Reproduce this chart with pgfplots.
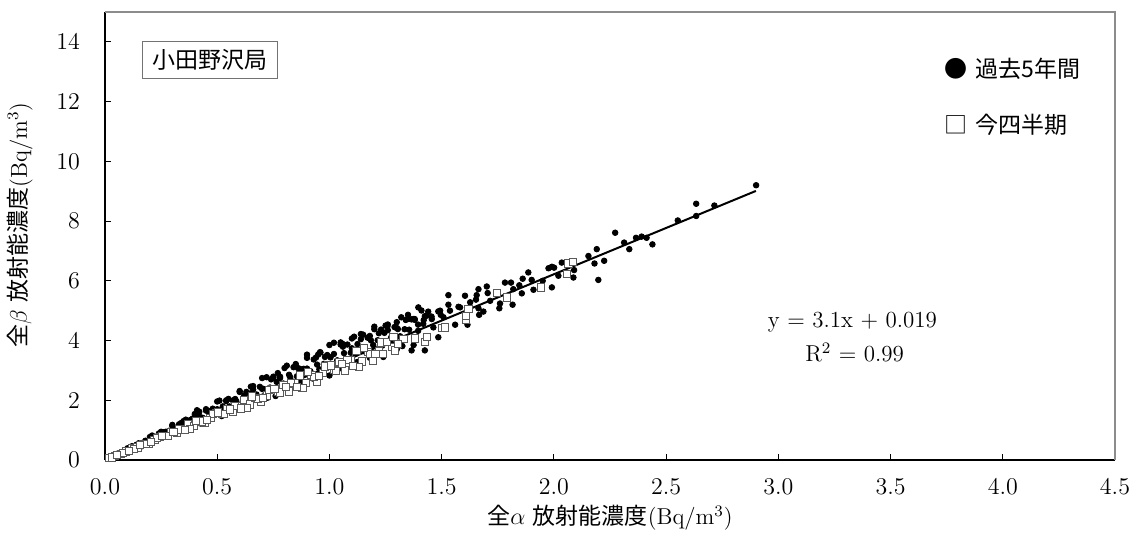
\documentclass[border=0pt]{standalone}
\usepackage{fontspec}
\usepackage{pgfplots}
\usepackage{pgfplotstable}
\pgfplotsset{compat=1.18}
\newfontfamily\jp{Noto Sans CJK JP}

% past 5 years (black circles)
\pgfplotstableread{
x y
0.03 0.109
0.06 0.225
0.09 0.320
0.12 0.462
0.15 0.552
0.18 0.644
0.21 0.819
0.24 0.888
0.27 0.945
0.30 1.140
0.33 1.195
0.36 1.350
0.39 1.385
0.42 1.617
0.45 1.656
0.48 1.718
0.51 1.989
0.54 1.998
0.57 1.995
0.60 2.280
0.63 2.281
0.66 2.475
0.69 2.450
0.72 2.772
0.75 2.760
0.78 2.792
0.81 3.159
0.84 3.108
0.87 3.045
0.90 3.420
0.93 3.367
0.96 3.600
0.99 3.515
1.02 3.927
1.05 3.864
1.08 3.866
1.11 4.129
1.14 4.218
1.17 4.095
1.20 4.380
1.23 4.367
1.26 4.536
1.29 4.451
1.32 4.778
1.35 4.725
1.38 4.692
1.41 5.006
1.44 4.968
0.015 0.050
0.045 0.154
0.075 0.242
0.105 0.353
0.135 0.443
0.165 0.569
0.195 0.634
0.225 0.761
0.255 0.842
0.285 0.975
0.315 1.014
0.345 1.159
0.375 1.230
0.405 1.397
0.435 1.414
0.465 1.572
0.495 1.634
0.525 1.796
0.555 1.787
0.585 1.966
0.615 2.017
0.645 2.225
0.675 2.194
0.705 2.383
0.735 2.426
0.765 2.616
0.795 2.560
0.825 2.772
0.855 2.804
0.885 3.053
0.915 2.974
0.945 3.194
0.975 3.218
1.005 3.437
1.035 3.333
1.065 3.578
1.095 3.592
1.125 3.881
1.155 3.754
1.185 4.005
1.215 4.010
1.245 4.258
1.275 4.106
1.305 4.385
1.335 4.379
1.365 4.709
1.395 4.534
1.425 4.817
1.455 4.802
1.485 4.975
0.025 0.074
0.075 0.229
0.125 0.360
0.175 0.543
0.225 0.657
0.275 0.825
0.325 0.959
0.375 1.144
0.425 1.224
0.475 1.473
0.525 1.533
0.575 1.725
0.625 1.844
0.675 2.059
0.725 2.088
0.775 2.403
0.825 2.409
0.875 2.625
0.925 2.729
0.975 2.974
1.025 2.952
1.075 3.333
1.125 3.285
1.175 3.525
1.225 3.614
1.240 3.450
1.275 3.889
1.325 3.816
1.375 3.850
1.425 3.670
0.02 0.070
0.06 0.215
0.10 0.340
0.14 0.511
0.18 0.634
0.22 0.766
0.26 0.931
0.30 1.020
0.34 1.241
0.38 1.338
0.42 1.462
0.46 1.647
0.50 1.700
0.54 1.971
0.58 2.042
0.62 2.158
0.66 2.363
0.70 2.380
0.74 2.701
0.78 2.746
0.82 2.854
0.86 3.079
0.90 3.060
0.94 3.431
0.98 3.450
1.02 3.550
1.06 3.795
1.10 3.740
1.14 4.047
1.18 4.154
1.22 4.246
1.26 4.347
1.30 4.420
1.34 4.690
1.38 4.720
1.42 4.686
0.035 0.110
0.075 0.242
0.115 0.357
0.155 0.493
0.195 0.614
0.235 0.757
0.275 0.853
0.315 1.002
0.355 1.118
0.395 1.272
0.435 1.349
0.475 1.511
0.515 1.622
0.555 1.787
0.595 1.845
0.635 2.019
0.675 2.126
0.715 2.302
0.755 2.341
0.795 2.528
0.835 2.630
0.875 2.818
0.915 2.837
0.955 3.037
0.995 3.134
1.035 3.333
1.075 3.333
1.115 3.546
1.155 3.638
1.195 3.848
1.235 3.829
1.275 4.055
1.315 4.142
1.355 4.363
1.395 4.325
0.05 0.189
0.10 0.392
0.15 0.558
0.20 0.770
0.25 0.945
0.30 1.176
0.35 1.302
0.40 1.540
0.45 1.701
0.50 1.960
0.55 2.046
0.60 2.310
0.65 2.457
0.70 2.744
0.75 2.790
0.80 3.080
0.85 3.213
0.90 3.528
0.95 3.534
1.00 3.850
1.05 3.938
1.10 4.070
1.15 4.198
1.20 4.464
1.25 4.500
1.30 4.615
1.35 4.860
0.10 0.285
0.16 0.448
0.22 0.638
0.28 0.790
0.34 0.979
0.40 1.120
0.46 1.334
0.52 1.472
0.58 1.665
0.64 1.792
0.70 2.030
0.76 2.143
0.82 2.362
0.88 2.464
0.94 2.726
1.00 2.830
1.06 3.042
1.12 3.136
1.18 3.422
1.24 3.497
1.30 3.705
0.41 1.667
0.77 2.910
0.958 3.610
1.058 3.890
1.258 4.470
1.396 5.110
1.374 4.720
1.456 4.720
1.433 4.830
1.418 4.560
1.463 4.440
1.485 4.110
1.366 3.670
1.530 5.520
1.530 5.200
1.537 5.000
1.508 4.780
1.493 5.000
1.496 4.860
1.560 4.530
1.582 5.110
1.575 5.130
1.604 5.500
1.615 4.530
1.627 5.280
1.653 5.370
1.656 5.520
1.664 5.720
1.664 5.080
1.667 4.860
1.686 4.970
1.701 5.810
1.705 5.590
1.716 5.330
1.760 5.240
1.757 5.080
1.782 5.940
1.809 5.940
1.816 5.200
1.819 5.720
1.846 5.850
1.861 6.070
1.857 5.580
1.886 6.280
1.901 6.030
1.909 5.700
1.950 6.000
1.976 6.420
1.991 6.470
2.001 6.440
1.991 5.780
2.020 6.170
2.035 6.610
2.087 6.110
2.090 6.360
2.154 6.830
2.181 6.580
2.191 7.060
2.224 6.670
2.198 6.030
2.273 7.610
2.313 7.280
2.336 7.060
2.366 7.440
2.391 7.480
2.413 7.440
2.439 7.220
2.552 8.020
2.634 8.580
2.634 8.170
2.715 8.520
2.901 9.200
}\pastdata

% this quarter (open squares)
\pgfplotstableread{
x y
0.020 0.059
0.045 0.142
0.070 0.196
0.095 0.290
0.120 0.390
0.145 0.418
0.170 0.527
0.195 0.542
0.220 0.660
0.245 0.784
0.270 0.797
0.295 0.929
0.320 0.896
0.345 1.052
0.370 1.203
0.395 1.138
0.420 1.302
0.445 1.237
0.470 1.410
0.495 1.584
0.520 1.534
0.545 1.717
0.570 1.596
0.595 1.815
0.620 2.015
0.645 1.858
0.670 2.077
0.695 1.932
0.720 2.160
0.745 2.384
0.770 2.272
0.795 2.504
0.820 2.296
0.845 2.577
0.870 2.828
0.895 2.578
0.920 2.852
0.945 2.627
0.970 2.910
0.995 3.184
1.020 3.009
1.045 3.292
1.070 2.996
1.095 3.340
1.120 3.640
1.145 3.298
1.170 3.627
1.195 3.322
1.220 3.660
0.03 0.087
0.08 0.248
0.13 0.358
0.18 0.540
0.23 0.736
0.28 0.812
0.33 1.023
0.38 1.045
0.43 1.290
0.48 1.536
0.53 1.537
0.58 1.798
0.63 1.733
0.68 2.040
0.73 2.336
0.78 2.262
0.83 2.573
0.88 2.420
0.93 2.790
0.98 3.136
1.03 2.987
1.08 3.348
1.13 3.108
1.18 3.540
1.23 3.936
1.28 3.776
1.33 4.057
1.38 4.071
0.055 0.168
0.105 0.299
0.155 0.504
0.205 0.605
0.255 0.803
0.305 0.930
0.355 1.012
0.405 1.316
0.455 1.342
0.505 1.591
0.555 1.693
0.605 1.724
0.655 2.129
0.705 2.080
0.755 2.378
0.805 2.455
0.855 2.437
0.905 2.941
0.955 2.817
1.005 3.166
1.055 3.218
1.105 3.149
1.155 3.754
1.205 3.555
1.255 3.953
1.240 3.560
1.292 3.670
1.285 4.110
1.307 3.890
1.426 3.960
1.433 4.110
1.500 4.420
1.515 4.440
1.609 4.690
1.609 4.830
1.619 5.060
1.748 5.590
1.790 5.440
1.944 5.780
2.058 6.240
2.065 6.580
2.084 6.630
}\quarterdata

\begin{document}
\begin{tikzpicture}[font=\fontsize{11.5}{14}\selectfont]
\useasboundingbox (-52.5pt,-39pt) rectangle (514pt,230pt);
\begin{axis}[
  scale only axis, width=505pt, height=224pt,
  xmin=0, xmax=4.5, ymin=0, ymax=15,
  xtick={0,0.5,1,1.5,2,2.5,3,3.5,4,4.5},
  ytick={0,2,4,6,8,10,12,14},
  xticklabel style={yshift=-6pt, /pgf/number format/fixed, /pgf/number format/fixed zerofill, /pgf/number format/precision=1},
  yticklabel style={xshift=-9pt},
  tick align=inside,
  axis x line*=bottom, axis y line*=left,
  axis line style={black, line width=0.8pt},
  major tick length=3pt,
  tick style={black, line width=0.5pt},
  xlabel={{\jp 全}$\alpha$ {\jp 放射能濃度}(Bq/m$^3$)},
  ylabel={{\jp 全}$\beta$ {\jp 放射能濃度}(Bq/m$^3$)},
  xlabel style={at={(axis description cs:0.5,-0.1295)}, anchor=center},
  ylabel style={at={(axis description cs:-0.084,0.525)}, anchor=center},
  clip=false,
]
\addplot[only marks, mark=*, mark size=1.4pt, black] table {\pastdata};
\addplot[only marks, mark=square*, mark size=1.8pt, draw=black!65, fill=white, line width=0.45pt] table {\quarterdata};
\addplot[black, line width=1pt, no marks] coordinates {(0,0.019) (2.9,9.009)};
\draw[black!45, line width=0.6pt] (rel axis cs:0,1) -- (rel axis cs:1,1) -- (rel axis cs:1,0);
\node[draw=black!55, line width=0.5pt, inner xsep=5pt, inner ysep=4pt, fill=white] at (axis cs:0.47,13.4) {\jp 小田野沢局};
\node[anchor=west] at (axis cs:3.71,13.1) {{\jp ●} {\jp 過去5年間}};
\node[anchor=west] at (axis cs:3.71,11.23) {{\jp □} {\jp 今四半期}};
\node at (axis cs:3.33,4.6) {y = 3.1x + 0.019};
\node at (axis cs:3.34,3.6) {R$^2$ = 0.99};
\end{axis}
\end{tikzpicture}
\end{document}
